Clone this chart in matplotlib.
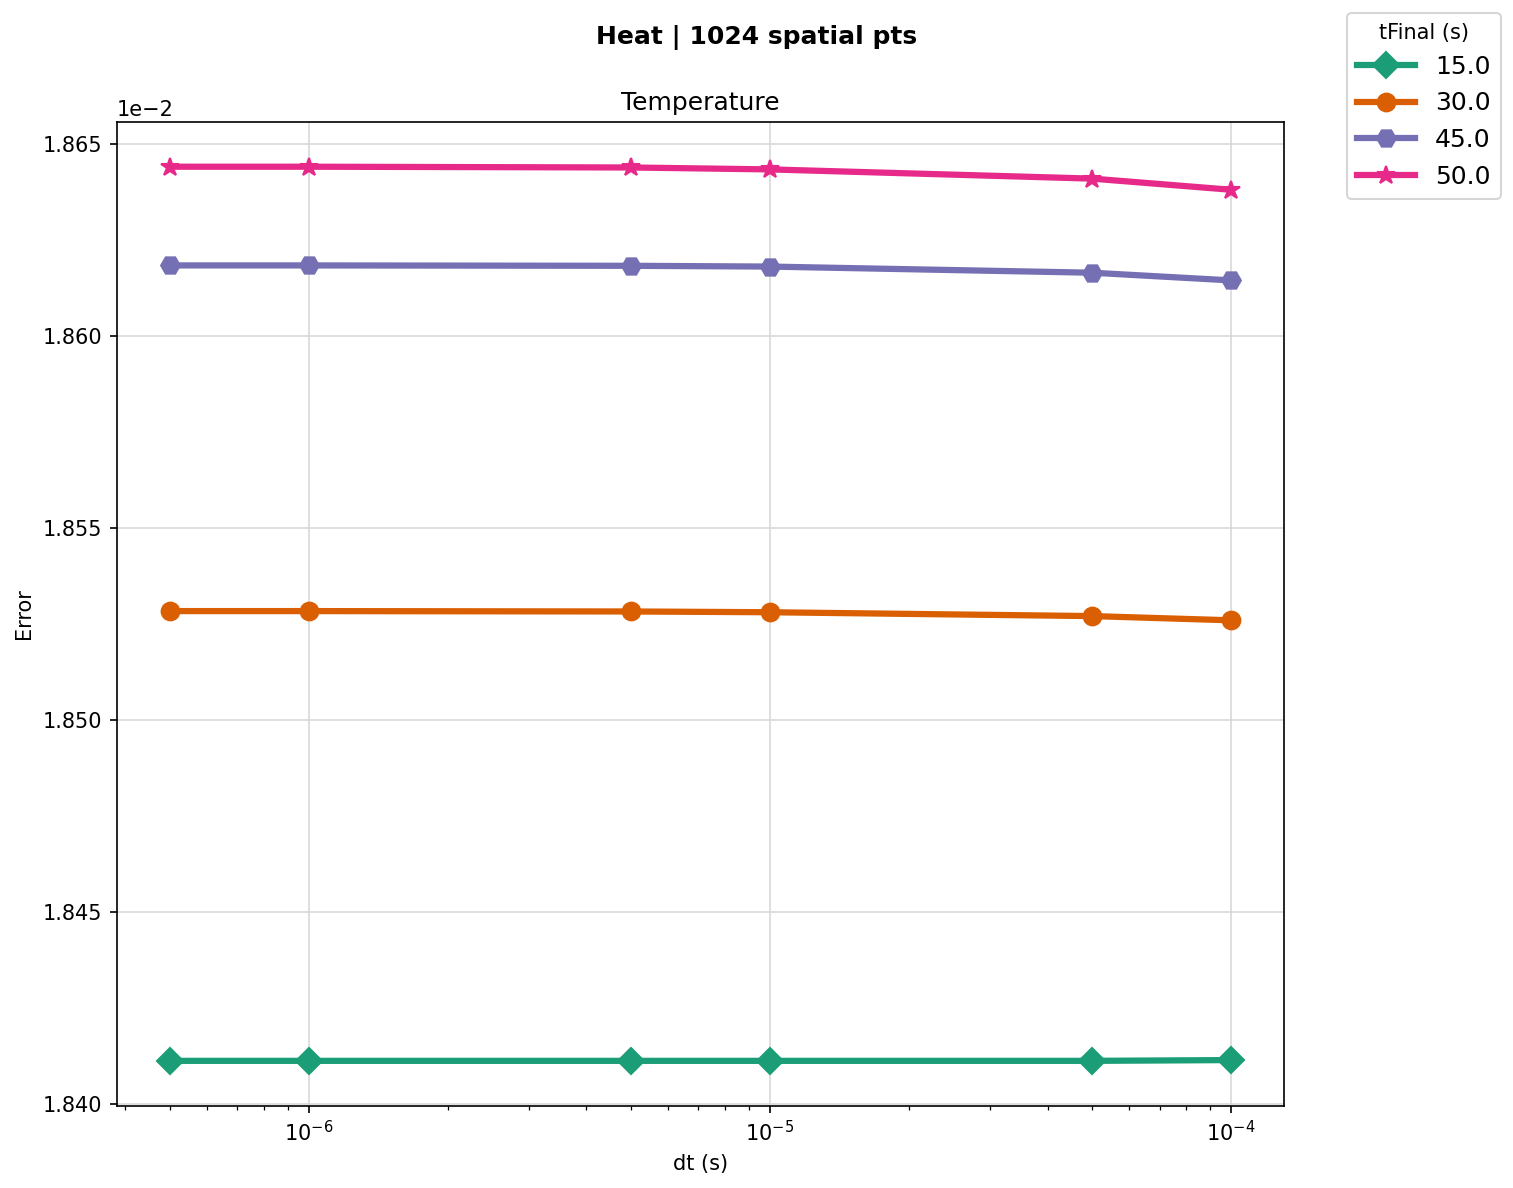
import matplotlib
matplotlib.use('Agg')
import matplotlib.pyplot as plt
import numpy as np

# time steps (s)
dt = [5e-7, 1e-6, 5e-6, 1e-5, 5e-5, 1e-4]

# error values per final time
tfinal_labels = ['15.0', '30.0', '45.0', '50.0']
err_15 = [1.84112e-2, 1.84112e-2, 1.84112e-2, 1.84112e-2, 1.84112e-2, 1.84114e-2]
err_30 = [1.85283e-2, 1.85283e-2, 1.85282e-2, 1.85280e-2, 1.85270e-2, 1.85259e-2]
err_45 = [1.86183e-2, 1.86183e-2, 1.86182e-2, 1.86180e-2, 1.86164e-2, 1.86144e-2]
err_50 = [1.86440e-2, 1.86440e-2, 1.86438e-2, 1.86433e-2, 1.86409e-2, 1.86380e-2]

series = [err_15, err_30, err_45, err_50]
colors = ['#1b9e77', '#d95f02', '#7570b3', '#e7298a']
markers = ['D', 'o', 'H', '*']
msizes = [9, 8.5, 9, 9]

fig = plt.figure(figsize=(1513 / 150, 1188 / 150), dpi=150)
ax = fig.add_subplot(111)
fig.subplots_adjust(left=0.0773, right=0.8487, bottom=0.0694, top=0.8973)

for vals, lab, c, m, ms in zip(series, tfinal_labels, colors, markers, msizes):
    ax.plot(dt, vals, color=c, marker=m, markersize=ms, linewidth=3, label=lab)

ax.set_xscale('log')
ax.ticklabel_format(axis='y', style='sci', scilimits=(0, 0))
ax.grid(True, which='major', color='#d9d9d9', linewidth=0.8)
ax.set_title('Temperature', fontsize=12)
ax.set_xlabel('dt (s)')
ax.set_ylabel('Error')

fig.suptitle('Heat | 1024 spatial pts', fontweight='bold', fontsize=12, y=0.979)
fig.legend(loc='upper right', bbox_to_anchor=(1513 / 1513, 1.0),
           title='tFinal (s)', fontsize=12, title_fontsize=10,
           handlelength=2.3)

fig.savefig('out.png', dpi=150)
